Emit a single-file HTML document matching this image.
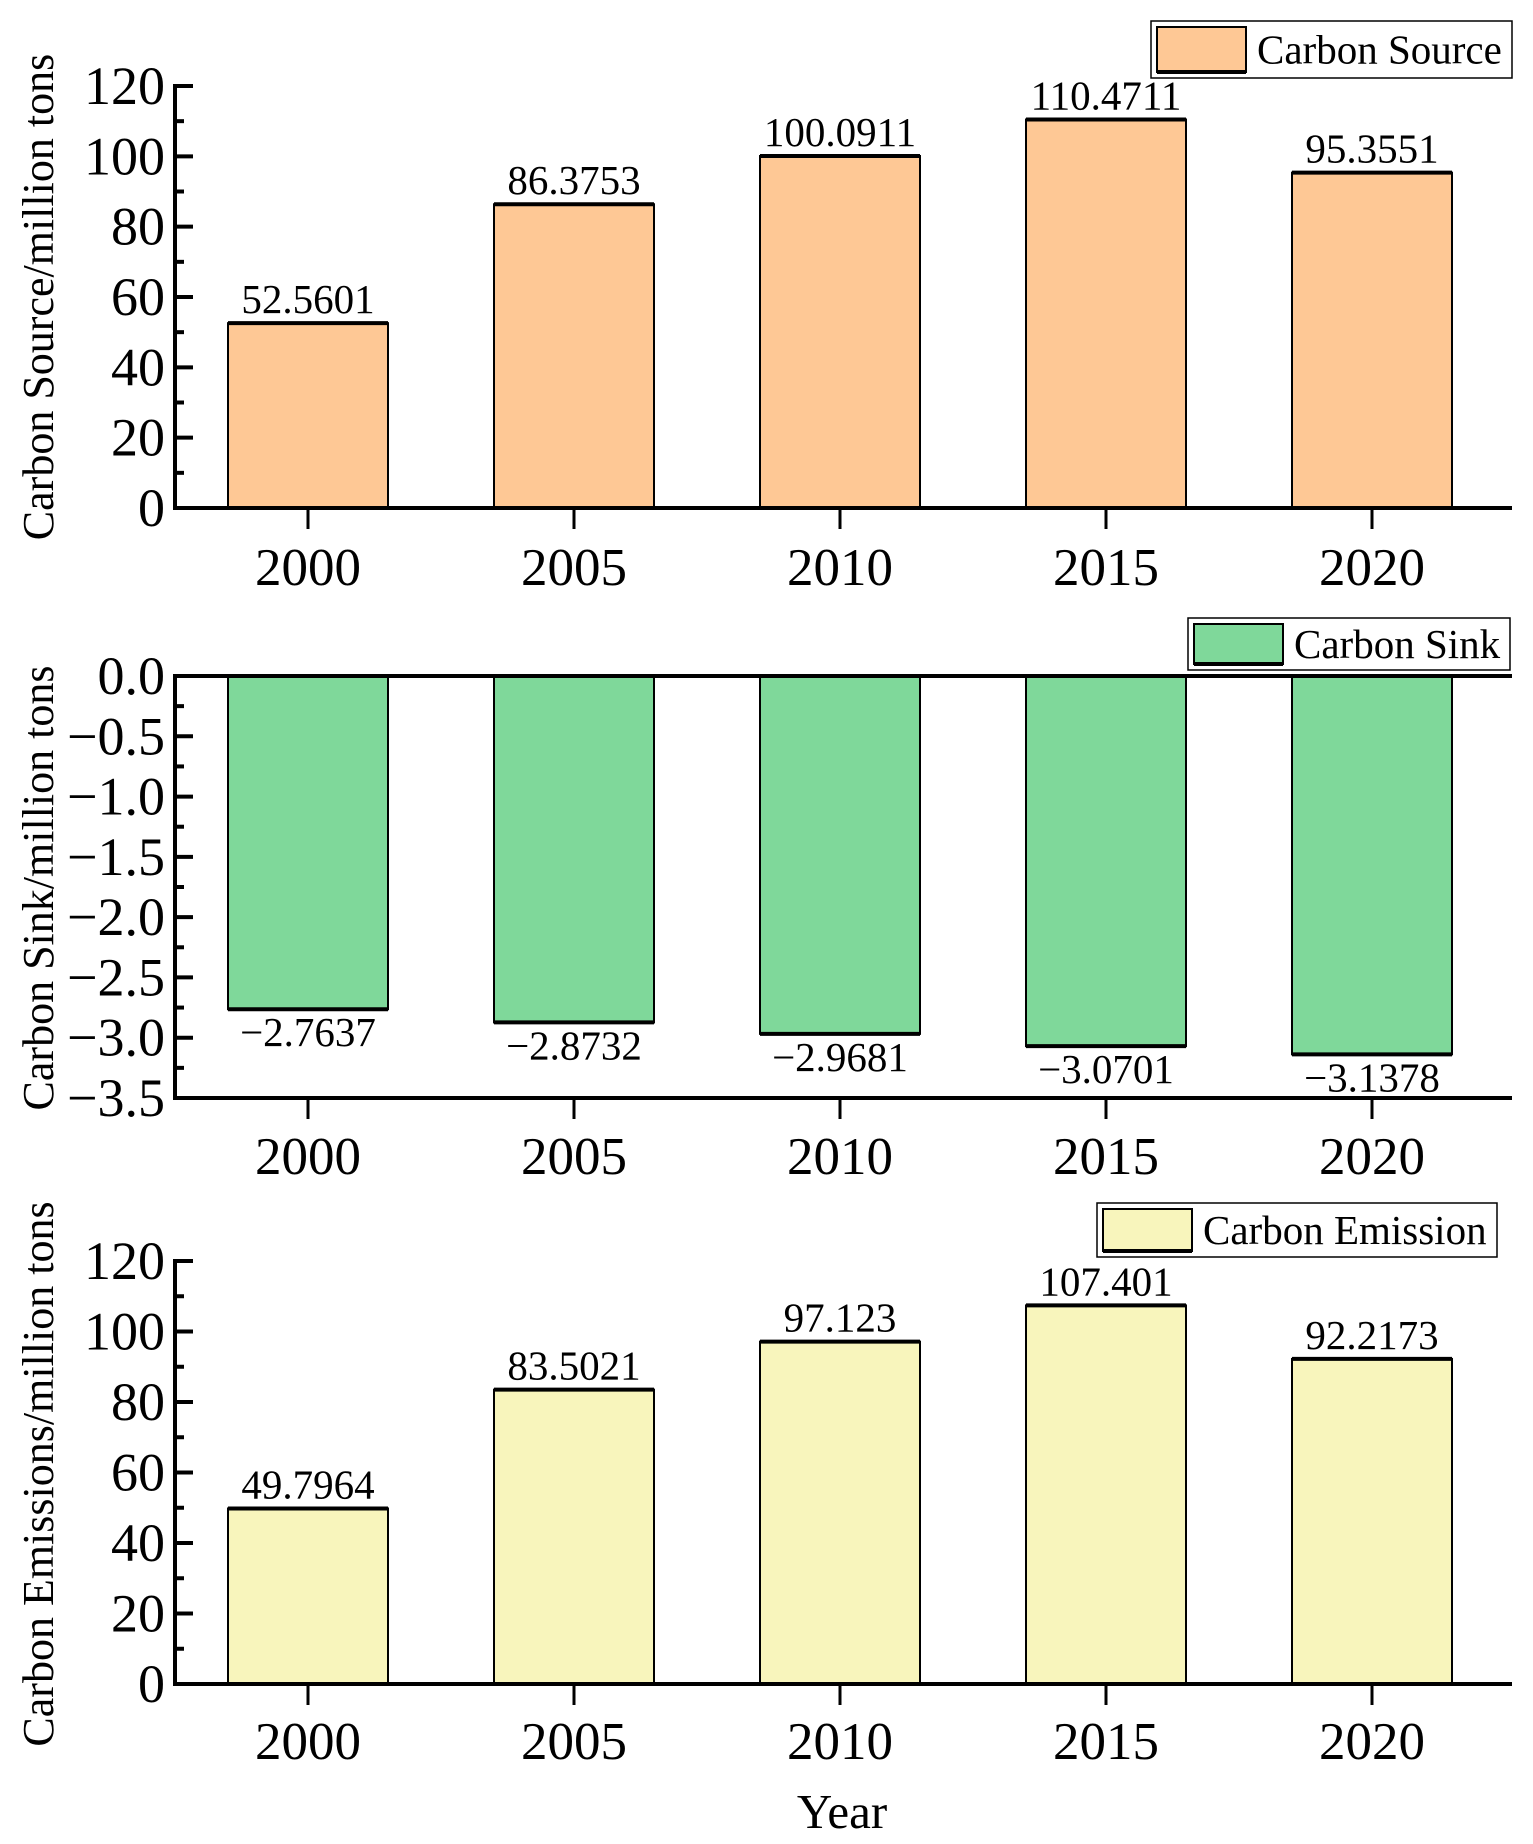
<!DOCTYPE html>
<html><head><meta charset="utf-8"><style>
html,body{margin:0;padding:0;background:#fff}
svg{display:block}
text{font-family:"Liberation Serif",serif;fill:#000}
</style></head><body>
<svg id="c" width="1533" height="1844" viewBox="0 0 1533 1844"></svg>
<script>
const categories = ["2000","2005","2010","2015","2020"];
const sourceValues = [52.5601,86.3753,100.0911,110.4711,95.3551];
const sinkValues = [-2.7637,-2.8732,-2.9681,-3.0701,-3.1378];
const emissionValues = [49.7964,83.5021,97.123,107.401,92.2173];
const sourceTicks = [0,20,40,60,80,100,120];
const sinkTicks = [0.0,-0.5,-1.0,-1.5,-2.0,-2.5,-3.0,-3.5];
const emissionTicks = [0,20,40,60,80,100,120];
const sourceLabels = ["52.5601","86.3753","100.0911","110.4711","95.3551"];
const sinkLabels = ["\u22122.7637","\u22122.8732","\u22122.9681","\u22123.0701","\u22123.1378"];
const emissionLabels = ["49.7964","83.5021","97.123","107.401","92.2173"];

const NS="http://www.w3.org/2000/svg";
const svg=document.getElementById('c');
function el(tag,attrs,parent){const e=document.createElementNS(NS,tag);for(const k in attrs)e.setAttribute(k,attrs[k]);(parent||svg).appendChild(e);return e;}

const AX_L=175, AX_R=1512, BAR_W=160;
function xScale(i){return 308+i*266.0;}

function panel(o){
  const g=el('g',{});
  
  
  const y=v=>o.yTop+(o.vMax-v)/(o.vMax-o.vMin)*(o.yBot-o.yTop);
  o.values.forEach((v,i)=>{
    const x=xScale(i)-BAR_W/2, y0=y(0), y1=y(v);
    const r=el('rect',{x:x,y:Math.min(y0,y1),width:BAR_W,height:Math.abs(y1-y0),fill:o.color,stroke:'#000','stroke-width':2},g);
    
    
    el('line',{x1:x,x2:x+BAR_W,y1:y1,y2:y1,stroke:'#000','stroke-width':4},g);
    const t=el('text',{x:xScale(i),y:v>=0?y1-10:y1+37,'font-size':41,'text-anchor':'middle'},g);
    t.textContent=o.labels[i];
    
    
  });
  const base=o.vMin<0?o.yBot:y(0);
  el('line',{x1:AX_L,x2:AX_L,y1:o.yTop-2,y2:base+2,stroke:'#000','stroke-width':4},g);
  el('line',{x1:AX_L-2,x2:AX_R,y1:base,y2:base,stroke:'#000','stroke-width':4},g);
  if(o.vMin<0) el('line',{x1:AX_L-2,x2:AX_R,y1:o.yTop,y2:o.yTop,stroke:'#000','stroke-width':4},g);
  o.ticks.forEach((t,i)=>{
    const yy=y(t);
    el('line',{x1:AX_L,x2:AX_L+18,y1:yy,y2:yy,stroke:'#000','stroke-width':4},g);
    if(i<o.ticks.length-1){const ym=y((t+o.ticks[i+1])/2);el('line',{x1:AX_L,x2:AX_L+9,y1:ym,y2:ym,stroke:'#000','stroke-width':4},g);}
    const tx=el('text',{x:AX_L-10,y:yy+18,'font-size':54,'text-anchor':'end'},g);
    tx.textContent=o.fmt(t);
    
    
  });
  categories.forEach((c,i)=>{
    el('line',{x1:xScale(i),x2:xScale(i),y1:base,y2:base+21,stroke:'#000','stroke-width':3},g);
    const tx=el('text',{x:xScale(i),y:o.xLab+2,'font-size':53,'text-anchor':'middle'},g);
    tx.textContent=c;
    
    
  });
  const yt=el('text',{x:0,y:0,'font-size':44,'text-anchor':'middle',transform:`translate(53,${o.titleY}) rotate(-90)`},g);
  yt.textContent=o.title;
  
  
  const lg=el('g',{},g);
  
  
  el('rect',{x:o.leg[0],y:o.leg[1],width:o.leg[2]-o.leg[0],height:o.leg[3]-o.leg[1],fill:'#fff',stroke:'#000','stroke-width':1.5},lg);
  el('rect',{x:o.leg[0]+6,y:o.leg[1]+6,width:89,height:o.leg[3]-o.leg[1]-12,fill:o.color,stroke:'#000','stroke-width':2},lg);
  el('line',{x1:o.leg[0]+6,x2:o.leg[0]+95,y1:o.leg[3]-6,y2:o.leg[3]-6,stroke:'#000','stroke-width':4},lg);
  const lt=el('text',{x:o.leg[0]+106,y:(o.leg[1]+o.leg[3])/2+14,'font-size':41},lg);
  lt.textContent=o.legText;
}

panel({name:'source',values:sourceValues,labels:sourceLabels,ticks:sourceTicks,vMin:0,vMax:120,yTop:86,yBot:508,
  color:'#fec895',xLab:583,title:'Carbon Source/million tons',titleY:297,leg:[1151,21,1512,78],legText:'Carbon Source',fmt:t=>String(t)});
panel({name:'sink',values:sinkValues,labels:sinkLabels,ticks:sinkTicks,vMin:-3.5,vMax:0,yTop:676,yBot:1098,
  color:'#7fd89a',xLab:1172,title:'Carbon Sink/million tons',titleY:888,leg:[1188,618,1510,670],legText:'Carbon Sink',fmt:t=>(t<0?'\u2212':'')+Math.abs(t).toFixed(1)});
panel({name:'emission',values:emissionValues,labels:emissionLabels,ticks:emissionTicks,vMin:0,vMax:120,yTop:1261,yBot:1684,
  color:'#f8f5bc',xLab:1757,title:'Carbon Emissions/million tons',titleY:1474,leg:[1097,1203,1497,1257],legText:'Carbon Emission',fmt:t=>String(t)});

const xt=el('text',{x:842,y:1828,'font-size':49,'text-anchor':'middle'});
xt.textContent='Year';


</script>
</body></html>
